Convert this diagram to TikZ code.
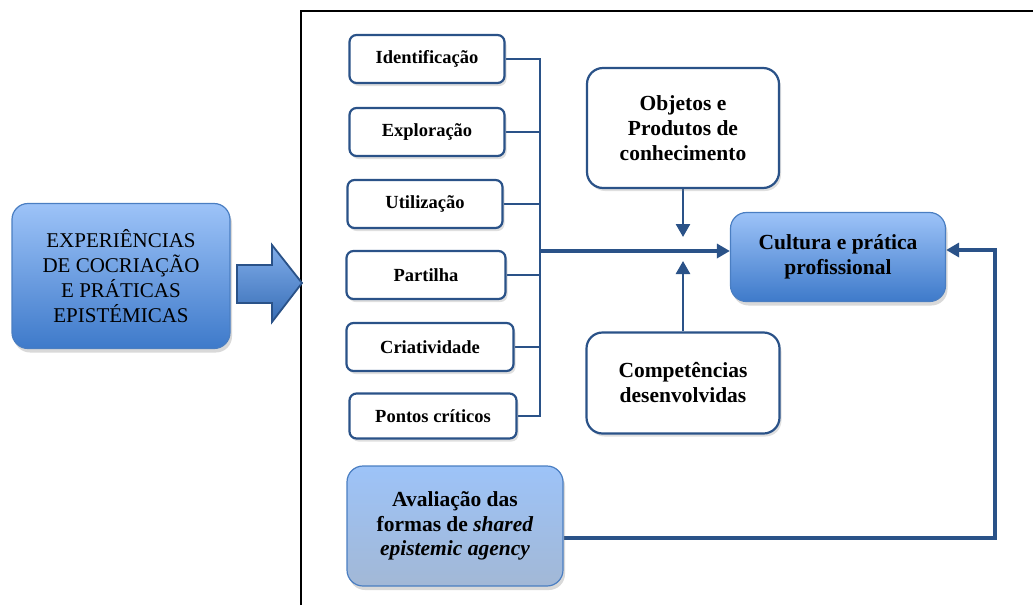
\documentclass[tikz,border=0pt]{standalone}
\usepackage{fontspec}
\setmainfont{Liberation Serif}
\usetikzlibrary{arrows.meta,shadows}
\pgfdeclarelayer{bg}
\pgfsetlayers{bg,main}
\definecolor{linkblue}{HTML}{2A5288}
\definecolor{boxedge}{HTML}{4A7EC2}
\definecolor{lighttop}{HTML}{9DC3F8}
\definecolor{darkbot}{HTML}{3E7ACA}
\definecolor{greybot}{HTML}{A2B8D6}
\tikzset{
    item/.style={rectangle, rounded corners=7pt, draw=linkblue, line width=2.2pt, fill=white,
        minimum width=155pt, minimum height=48pt, inner sep=0pt,
        font=\fontsize{18.5}{20}\selectfont\bfseries,
        drop shadow={opacity=0.25, shadow xshift=2pt, shadow yshift=-3pt}},
    bigitem/.style={item, rounded corners=16pt, align=center, font=\fontsize{21.5}{25}\selectfont\bfseries},
    bluebox/.style={rectangle, rounded corners=16pt, draw=boxedge, line width=1.2pt,
        top color=lighttop, bottom color=darkbot, align=center, inner sep=0pt,
        font=\fontsize{21.5}{24.5}\selectfont\bfseries,
        drop shadow={opacity=0.3, shadow xshift=2pt, shadow yshift=-4pt}},
    link/.style={draw=linkblue, line width=2.6pt},
    tip/.style={-{Triangle[length=13pt,width=14pt]}}
}
\begin{document}
\begin{tikzpicture}[x=1pt, y=-1pt]
        \useasboundingbox (0,0) rectangle (1033,605);
        \draw[line width=2pt] (301,605) -- (301,11) -- (1033,11);
        \node (exp) [bluebox, font=\fontsize{21}{25}\selectfont, minimum width=218pt, minimum height=145pt] at (121, 276)
                {EXPERIÊNCIAS\\DE COCRIAÇÃO\\E PRÁTICAS\\EPISTÉMICAS};
        \filldraw[draw=linkblue, line width=1.8pt, top color=lighttop!70!darkbot, bottom color=darkbot!90!black]
                (237,265) -- (272,265) -- (272,245) -- (302,283) -- (272,322) -- (272,303) -- (237,303) -- cycle;
        \node (id) [item] at (427, 59) {Identificação};
        \node (ex) [item] at (427, 132) {Exploração};
        \node (ut) [item] at (425, 204) {Utilização};
        \node (pa) [item, minimum width=159pt] at (426, 275) {Partilha};
        \node (cr) [item, minimum width=167pt] at (430, 347) {Criatividade};
        \node (pc) [item, minimum width=167pt, minimum height=45pt] at (433, 416) {Pontos críticos};
        \node (obj) [bigitem, minimum width=192pt, minimum height=120pt] at (683, 128)
                {Objetos e\\Produtos de\\conhecimento};
        \node (comp) [bigitem, minimum width=193pt, minimum height=101pt] at (683, 383)
                {Competências\\desenvolvidas};
        \node (cult) [bluebox, minimum width=215pt, minimum height=89pt] at (838, 257)
                {Cultura e prática\\profissional};
        \node (aval) [bluebox, bottom color=greybot, minimum width=216pt, minimum height=120pt] at (455, 526)
                {Avaliação das\\formas de \textit{shared}\\\textit{epistemic agency}};
        \coordinate (bus) at (540, 251);
        \coordinate (objin) at (683, 237);
        \coordinate (compin) at (683, 261);
        \coordinate (fb) at (995, 400);
        \begin{pgfonlayer}{bg}
                \draw[link] (id.east) -- (id.east -| bus) -- (pc.east -| bus) -- (pc.east);
                \draw[link] (ex.east) -- (ex.east -| bus);
                \draw[link] (ut.east) -- (ut.east -| bus);
                \draw[link] (pa.east) -- (pa.east -| bus);
                \draw[link] (cr.east) -- (cr.east -| bus);
                \draw[link, tip, line width=3.6pt] (bus) -- (bus -| cult.west);
                \draw[link, tip] (obj.south) -- (objin);
                \draw[link, tip] (comp.north) -- (compin);
                \draw[link, tip, line width=3.4pt] ([yshift=-12pt]aval.east) -| (fb) |- ([yshift=7pt]cult.east);
        \end{pgfonlayer}
\end{tikzpicture}
\end{document}
